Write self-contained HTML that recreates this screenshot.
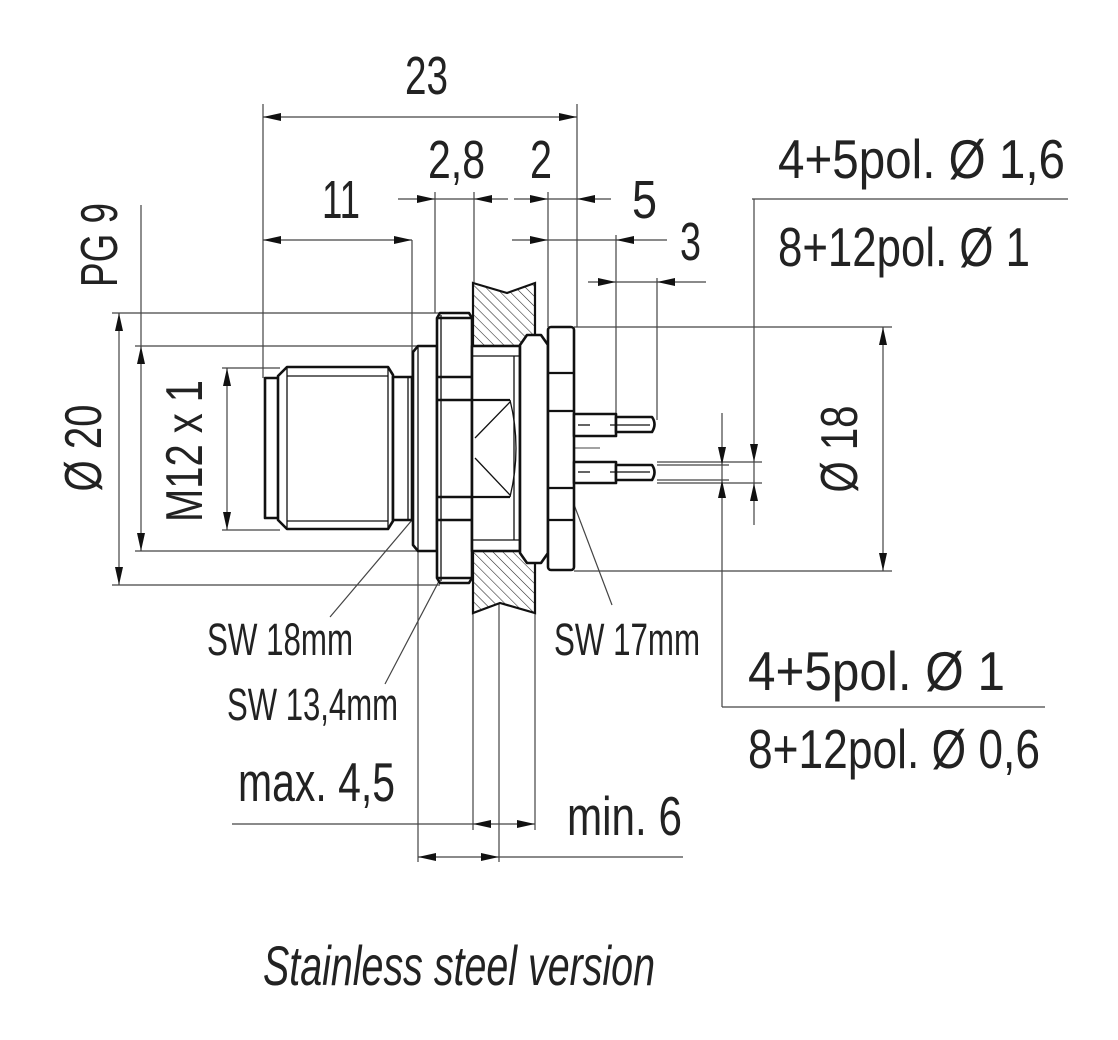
<!DOCTYPE html>
<html><head><meta charset="utf-8"><style>html,body{margin:0;padding:0;background:#fff}svg{display:block}text{font-family:"Liberation Sans",sans-serif;fill:#222}</style></head>
<body>
<svg width="1118" height="1040" viewBox="0 0 1118 1040" xmlns="http://www.w3.org/2000/svg">
<defs>
<pattern id="h" width="7" height="7" patternUnits="userSpaceOnUse" patternTransform="rotate(-45)"><line x1="0" y1="0" x2="0" y2="7" stroke="#222" stroke-width="1.1"/></pattern>
</defs>
<g stroke="#444" stroke-width="1.2" fill="none">
<line x1="263" y1="117" x2="577" y2="117"/>
<line x1="263" y1="104" x2="263" y2="378"/>
<line x1="577" y1="104" x2="577" y2="327"/>
<line x1="263" y1="240" x2="412" y2="240"/>
<line x1="412" y1="240" x2="412" y2="378"/>
<line x1="398" y1="199" x2="508" y2="199"/>
<line x1="435" y1="192" x2="435" y2="313"/>
<line x1="474" y1="192" x2="474" y2="283"/>
<line x1="514" y1="199" x2="611" y2="199"/>
<line x1="548" y1="192" x2="548" y2="327"/>
<line x1="512" y1="240" x2="667" y2="240"/>
<line x1="616" y1="235" x2="616" y2="414"/>
<line x1="588" y1="282" x2="706" y2="282"/>
<line x1="657" y1="278" x2="657" y2="420"/>
<line x1="112" y1="313" x2="440" y2="313"/>
<line x1="112" y1="585" x2="440" y2="585"/>
<line x1="135" y1="346" x2="420" y2="346"/>
<line x1="135" y1="551" x2="420" y2="551"/>
<line x1="222" y1="368" x2="280" y2="368"/>
<line x1="222" y1="530" x2="280" y2="530"/>
<line x1="119" y1="313" x2="119" y2="585"/>
<line x1="141" y1="205" x2="141" y2="551"/>
<line x1="227" y1="368" x2="227" y2="530"/>
<line x1="574" y1="327" x2="892" y2="327"/>
<line x1="574" y1="571" x2="892" y2="571"/>
<line x1="883" y1="327" x2="883" y2="571"/>
<line x1="752" y1="199" x2="1068" y2="199"/>
<line x1="754" y1="199" x2="754" y2="525"/>
<line x1="722" y1="413" x2="722" y2="707"/>
<line x1="722" y1="707" x2="1045" y2="707"/>
<line x1="657" y1="462" x2="762" y2="462"/>
<line x1="657" y1="483" x2="762" y2="483"/>
<line x1="657" y1="465" x2="729" y2="465"/>
<line x1="657" y1="480" x2="729" y2="480"/>
<line x1="232" y1="824" x2="535" y2="824"/>
<line x1="418" y1="857" x2="683" y2="857"/>
<line x1="418" y1="551" x2="418" y2="862"/>
<line x1="473" y1="613" x2="473" y2="830"/>
<line x1="499" y1="603" x2="499" y2="862"/>
<line x1="535" y1="613" x2="535" y2="830"/>
<line x1="265" y1="448" x2="600" y2="448" stroke-width="1"/>
<line x1="330" y1="617" x2="462" y2="461"/>
<line x1="385" y1="684" x2="502" y2="461"/>
<line x1="612" y1="605" x2="556" y2="457"/>
</g>
<g fill="#111">
<polygon points="263,117 281,113 281,121"/><polygon points="577,117 559,113 559,121"/>
<polygon points="263,240 281,236 281,244"/><polygon points="412,240 394,236 394,244"/>
<polygon points="435,199 417,195 417,203"/><polygon points="474,199 492,195 492,203"/>
<polygon points="548,199 530,195 530,203"/><polygon points="577,199 595,195 595,203"/>
<polygon points="548,240 530,236 530,244"/><polygon points="616,240 634,236 634,244"/>
<polygon points="616,282 598,278 598,286"/><polygon points="657,282 675,278 675,286"/>
<polygon points="119,313 115,331 123,331"/><polygon points="119,585 115,567 123,567"/>
<polygon points="141,346 137,364 145,364"/><polygon points="141,551 137,533 145,533"/>
<polygon points="227,368 223,386 231,386"/><polygon points="227,530 223,512 231,512"/>
<polygon points="883,327 879,345 887,345"/><polygon points="883,571 879,553 887,553"/>
<polygon points="754,462 750,444 758,444"/><polygon points="754,483 750,501 758,501"/>
<polygon points="722,465 718,447 726,447"/><polygon points="722,480 718,498 726,498"/>
<polygon points="473,824 491,820 491,828"/><polygon points="535,824 517,820 517,828"/>
<polygon points="418,857 436,853 436,861"/><polygon points="499,857 481,853 481,861"/>
<polygon points="462,461 447,471 453,477"/><polygon points="502,461 490,474 497,478"/><polygon points="556,457 557,475 564,472"/>
</g>
<g stroke="#111" stroke-width="2.2">
<path d="M473,283 L507,293 L535,283 L535,340 L528,346 L473,346 Z" fill="url(#h)"/>
<path d="M473,551 L528,551 L535,556 L535,613 L500,603 L473,613 Z" fill="url(#h)"/>
</g>
<g stroke="#111" stroke-width="2.6" fill="#fff" stroke-linejoin="round">
<rect x="265" y="378" width="15" height="140"/>
<polygon points="278,376 287,367 388,367 393,375 393,521 388,529 287,529 278,520"/>
<rect x="393" y="377" width="19" height="143"/>
<polygon points="413,352 418,346 437,346 437,551 418,551 413,545"/>
<polygon points="440,313 469,313 472,318 472,578 469,583 440,583 437,578 437,318"/>
<rect x="472" y="346" width="48" height="205"/>
<polygon points="527,335 541,335 548,345 548,553 541,563 527,563 520,553 520,345"/>
<rect x="548" y="327" width="26" height="243" rx="3"/>
<rect x="574" y="414" width="42" height="22"/>
<path d="M616,417 L652,417 Q657,424 652,432 L616,432 Z"/>
<rect x="574" y="462" width="42" height="21"/>
<path d="M616,465 L652,465 Q657,472 652,480 L616,480 Z"/>
</g>
<g stroke="#111" stroke-width="1.3" fill="none">
<line x1="287" y1="367" x2="287" y2="529"/><line x1="388" y1="367" x2="388" y2="529"/>
<line x1="287" y1="376" x2="388" y2="376"/><line x1="287" y1="521" x2="388" y2="521"/>
<line x1="408" y1="377" x2="408" y2="520"/><line x1="418" y1="346" x2="418" y2="551"/>
<line x1="441" y1="315" x2="441" y2="581"/>
<line x1="437" y1="318" x2="472" y2="318" stroke-width="2.4"/><line x1="437" y1="377" x2="472" y2="377" stroke-width="2.4"/>
<line x1="437" y1="400" x2="472" y2="400" stroke-width="2.4"/><line x1="437" y1="497" x2="472" y2="497" stroke-width="2.4"/>
<line x1="437" y1="520" x2="472" y2="520" stroke-width="2.4"/><line x1="437" y1="578" x2="472" y2="578" stroke-width="2.4"/>
<line x1="472" y1="356" x2="520" y2="356"/><line x1="472" y1="540" x2="520" y2="540"/>
<line x1="472" y1="400" x2="510" y2="400" stroke-width="2.2"/><line x1="472" y1="497" x2="510" y2="497" stroke-width="2.2"/>
<line x1="514" y1="356" x2="514" y2="540"/>
<path d="M510,400 Q522,448 510,497"/>
<line x1="475" y1="438" x2="510" y2="402"/><line x1="475" y1="458" x2="510" y2="495"/>
<line x1="548" y1="373" x2="574" y2="373" stroke-width="2.2"/><line x1="548" y1="411" x2="574" y2="411" stroke-width="2.2"/>
<line x1="548" y1="488" x2="574" y2="488" stroke-width="2.2"/><line x1="548" y1="520" x2="574" y2="520" stroke-width="2.2"/>
<line x1="578" y1="425" x2="590" y2="425"/><line x1="610" y1="425" x2="650" y2="425"/>
<line x1="578" y1="472" x2="590" y2="472"/><line x1="610" y1="472" x2="650" y2="472"/>
</g>
<g font-size="54">
<text x="405" y="94" textLength="43" lengthAdjust="spacingAndGlyphs">23</text>
<text x="322" y="218" textLength="38" lengthAdjust="spacingAndGlyphs">11</text>
<text x="428" y="178" textLength="57" lengthAdjust="spacingAndGlyphs">2,8</text>
<text x="530" y="178" textLength="22" lengthAdjust="spacingAndGlyphs">2</text>
<text x="632" y="218" textLength="25" lengthAdjust="spacingAndGlyphs">5</text>
<text x="680" y="260" textLength="21" lengthAdjust="spacingAndGlyphs">3</text>
</g>
<g font-size="55">
<text x="778" y="178" textLength="287" lengthAdjust="spacingAndGlyphs">4+5pol.   Ø 1,6</text>
<text x="778" y="266" textLength="252" lengthAdjust="spacingAndGlyphs">8+12pol.  Ø 1</text>
<text x="748" y="690" textLength="257" lengthAdjust="spacingAndGlyphs">4+5pol.   Ø 1</text>
<text x="748" y="768" textLength="292" lengthAdjust="spacingAndGlyphs">8+12pol.  Ø 0,6</text>
<text x="238" y="801" textLength="157" lengthAdjust="spacingAndGlyphs">max. 4,5</text>
<text x="567" y="835" textLength="115" lengthAdjust="spacingAndGlyphs">min. 6</text>
</g>
<g font-size="45">
<text x="207" y="655" textLength="146" lengthAdjust="spacingAndGlyphs">SW 18mm</text>
<text x="227" y="720" textLength="171" lengthAdjust="spacingAndGlyphs">SW 13,4mm</text>
<text x="554" y="655" textLength="146" lengthAdjust="spacingAndGlyphs">SW 17mm</text>
</g>
<text x="263" y="985" font-size="56" font-style="italic" textLength="392" lengthAdjust="spacingAndGlyphs">Stainless steel version</text>
<g font-size="52" text-anchor="middle">
<text transform="translate(101,448) rotate(-90)" textLength="87" lengthAdjust="spacingAndGlyphs">Ø 20</text>
<text transform="translate(202,451) rotate(-90)" textLength="142" lengthAdjust="spacingAndGlyphs">M12 x 1</text>
<text transform="translate(117,245) rotate(-90)" textLength="84" lengthAdjust="spacingAndGlyphs">PG 9</text>
<text transform="translate(857,449) rotate(-90)" textLength="87" lengthAdjust="spacingAndGlyphs">Ø 18</text>
</g>
</svg>
</body></html>
